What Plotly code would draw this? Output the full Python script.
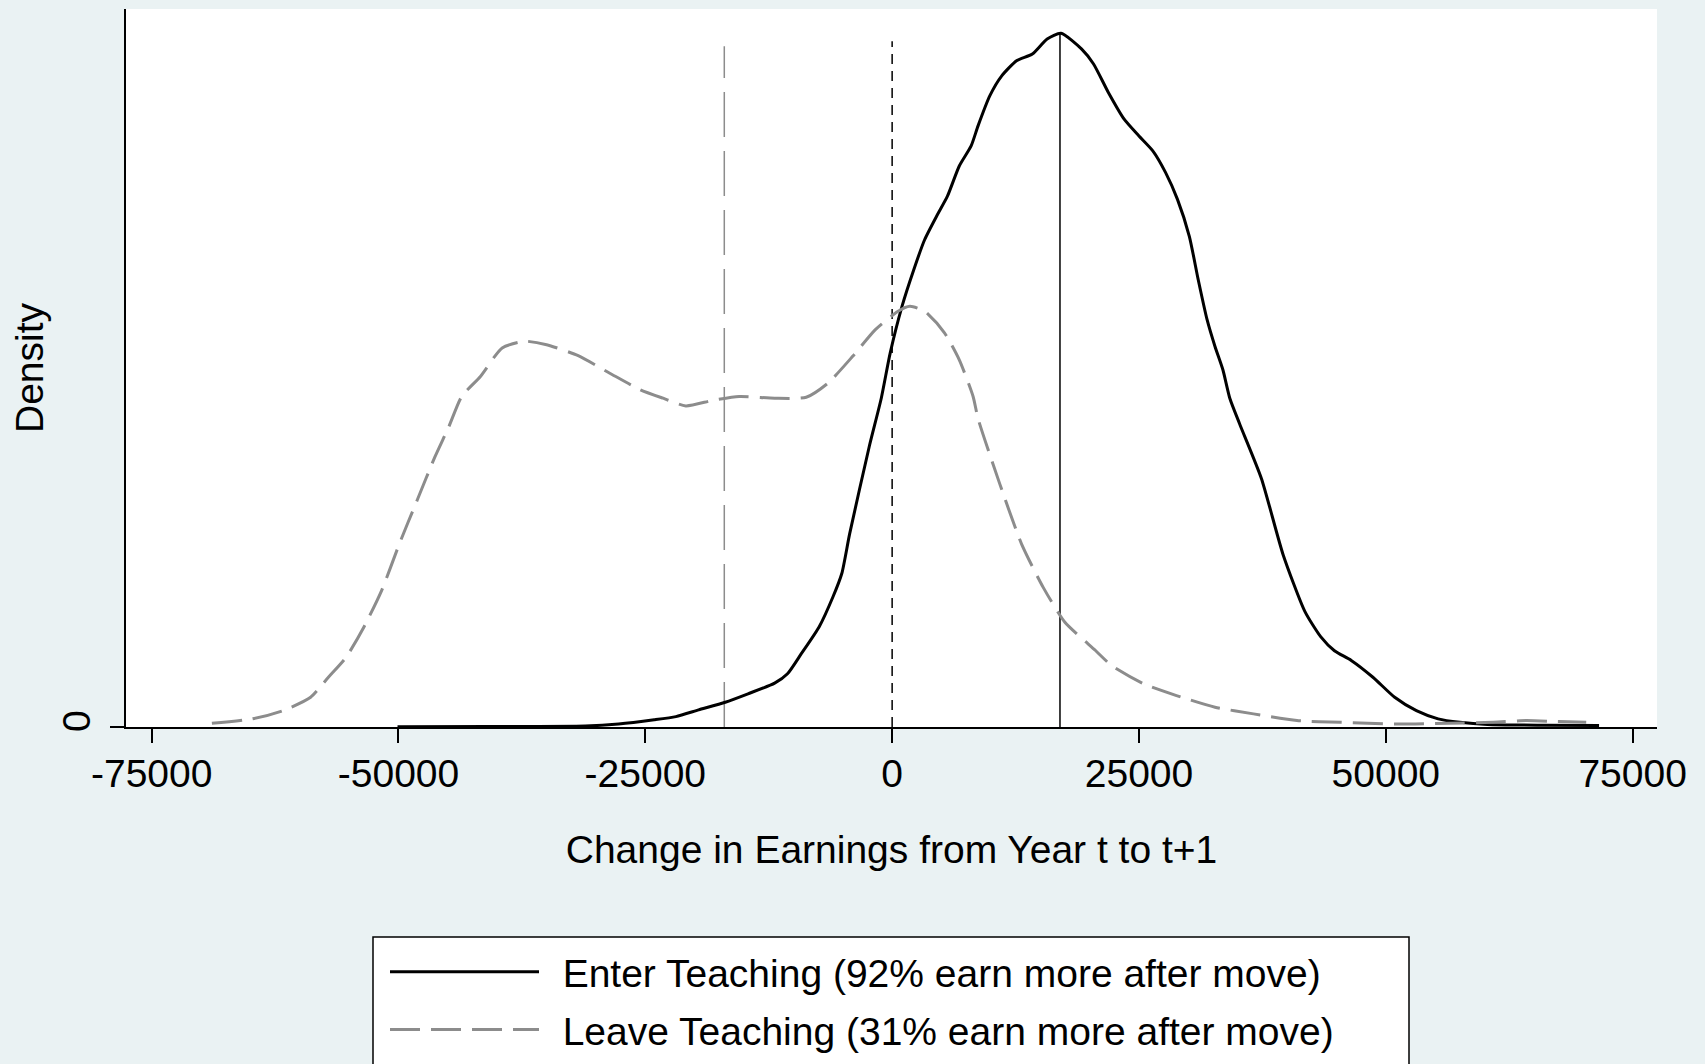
import plotly.graph_objects as go

# ---------------- data ----------------
enter_x = [-50100, -40800, -31100, -27700, -24100, -21900, -19600, -16900, -14600, -11900,
           -10600, -9200, -7400, -6000, -5100, -4300, -2300, -1100, -200, 1000,
           2200, 3300, 4500, 5600, 6800, 8000, 8700, 9900, 11100, 12600,
           14200, 15700, 17100, 19200, 20400, 21900, 23500, 25000, 26400, 27700,
           28900, 30100, 31000, 31900, 32700, 33500, 34200, 35200, 37400, 39600,
           41800, 43400, 44800, 46500, 48700, 50900, 53100, 55300, 57500, 60300,
           66000, 71600]
enter_density = [0.001e-5, 0.002e-5, 0.004e-5, 0.012e-5, 0.029e-5, 0.042e-5, 0.069e-5, 0.100e-5, 0.134e-5, 0.177e-5,
                 0.215e-5, 0.296e-5, 0.404e-5, 0.525e-5, 0.620e-5, 0.781e-5, 1.136e-5, 1.328e-5, 1.510e-5, 1.699e-5,
                 1.848e-5, 1.969e-5, 2.063e-5, 2.144e-5, 2.266e-5, 2.347e-5, 2.428e-5, 2.550e-5, 2.630e-5, 2.691e-5,
                 2.718e-5, 2.779e-5, 2.802e-5, 2.738e-5, 2.678e-5, 2.563e-5, 2.455e-5, 2.387e-5, 2.327e-5, 2.239e-5,
                 2.131e-5, 1.982e-5, 1.807e-5, 1.645e-5, 1.537e-5, 1.443e-5, 1.328e-5, 1.224e-5, 1.004e-5, 0.696e-5,
                 0.467e-5, 0.365e-5, 0.308e-5, 0.269e-5, 0.201e-5, 0.120e-5, 0.066e-5, 0.033e-5, 0.019e-5, 0.010e-5,
                 0.007e-5, 0.006e-5]

leave_x = [-68900, -64800, -61700, -58900, -57100, -55300, -53500, -51700, -49900, -48100,
           -46300, -44900, -43600, -41700, -39500, -37200, -35000, -31800, -28600, -25500,
           -23200, -20900, -18200, -15500, -11900, -8700, -6500, -4000, -1700, 600,
           1800, 3300, 5300, 6800, 8200, 8700, 10900, 13100, 15300, 17500,
           20600, 22200, 25500, 28800, 32700, 36600, 41000, 45400, 50900, 56400,
           60900, 64200, 67500, 70300]
leave_density = [0.015e-5, 0.033e-5, 0.066e-5, 0.120e-5, 0.201e-5, 0.282e-5, 0.404e-5, 0.552e-5, 0.741e-5, 0.917e-5,
                 1.092e-5, 1.213e-5, 1.335e-5, 1.416e-5, 1.531e-5, 1.558e-5, 1.544e-5, 1.500e-5, 1.429e-5, 1.362e-5,
                 1.328e-5, 1.297e-5, 1.319e-5, 1.335e-5, 1.328e-5, 1.332e-5, 1.389e-5, 1.497e-5, 1.605e-5, 1.679e-5,
                 1.699e-5, 1.679e-5, 1.592e-5, 1.483e-5, 1.335e-5, 1.246e-5, 0.982e-5, 0.740e-5, 0.564e-5, 0.423e-5,
                 0.309e-5, 0.249e-5, 0.174e-5, 0.127e-5, 0.080e-5, 0.053e-5, 0.026e-5, 0.019e-5, 0.012e-5, 0.015e-5,
                 0.019e-5, 0.026e-5, 0.022e-5, 0.019e-5]

# reference lines: position and height
leave_mean = -17000
leave_mean_top = 2.75e-5
zero_line = 0
zero_line_top = 2.77e-5
enter_mean = 17000
enter_mean_top = 2.80e-5

x_tick_vals = [-75000, -50000, -25000, 0, 25000, 50000, 75000]
x_tick_labels = ["-75000", "-50000", "-25000", "0", "25000", "50000", "75000"]

enter_name = "Enter Teaching (92% earn more after move)"
leave_name = "Leave Teaching (31% earn more after move)"
x_title = "Change in Earnings from Year t to t+1"
y_title = "Density"

# ---------------- styling ----------------
FONT = "Liberation Sans, Arial, sans-serif"
BG = "#EAF2F3"
GRAY = "#8C8C8C"
PAD = "\u00a0\u2009"  # small visual gap between legend key and label

W, H = 1705, 1064
ML, MR, MT, MB = 126, 48, 9, 337

fig = go.Figure()

# vertical reference lines
fig.add_trace(go.Scatter(x=[leave_mean, leave_mean], y=[0, leave_mean_top], mode="lines",
                         line=dict(color=GRAY, width=1.5, dash="45px,14px"),
                         showlegend=False, hoverinfo="skip"))
fig.add_trace(go.Scatter(x=[zero_line, zero_line], y=[0, zero_line_top], mode="lines",
                         line=dict(color="black", width=1.5, dash="10px,7px"),
                         showlegend=False, hoverinfo="skip"))
fig.add_trace(go.Scatter(x=[enter_mean, enter_mean], y=[0, enter_mean_top], mode="lines",
                         line=dict(color="black", width=1.5),
                         showlegend=False, hoverinfo="skip"))

# density curves
fig.add_trace(go.Scatter(x=enter_x, y=enter_density, mode="lines", name=PAD + enter_name,
                         line=dict(color="black", width=3, shape="spline", smoothing=0.6),
                         legendgroup="a"))
fig.add_trace(go.Scatter(x=leave_x, y=leave_density, mode="lines", name=PAD + leave_name,
                         line=dict(color=GRAY, width=3, dash="30px,11px", shape="spline", smoothing=0.6),
                         legendgroup="b"))

plot_w = W - ML - MR
plot_h = H - MT - MB

# legend frame (extends below the picture edge as in the reference)
fig.add_shape(type="rect", xref="paper", yref="paper",
              x0=(373 - ML) / plot_w, x1=(1409 - ML) / plot_w,
              y0=(H - MB - 1080) / plot_h, y1=(H - MB - 937) / plot_h,
              line=dict(color="black", width=1.5), fillcolor="white", layer="below")

fig.update_layout(
    width=W, height=H,
    margin=dict(l=ML, r=MR, t=MT, b=MB, pad=0, autoexpand=False),
    paper_bgcolor=BG, plot_bgcolor="white",
    font=dict(family=FONT, size=39, color="black"),
    showlegend=True,
    legend=dict(x=(385 - ML) / plot_w, y=(H - MB - 940) / plot_h,
                xanchor="left", yanchor="top",
                bgcolor="rgba(0,0,0,0)", borderwidth=0,
                itemwidth=149, tracegroupgap=4,
                font=dict(family=FONT, size=39, color="black")),
    xaxis=dict(range=[-77600, 77470], tickvals=x_tick_vals, ticktext=x_tick_labels,
               automargin=False,
               showgrid=False, zeroline=False, showline=True, linecolor="black", linewidth=2,
               ticks="outside", ticklen=14, tickwidth=1.5, tickcolor="black",
               tickfont=dict(size=39), ticklabelstandoff=-3,
               title=dict(text=x_title, font=dict(size=39), standoff=42)),
    yaxis=dict(range=[0, 2.90e-5], tickvals=[0], ticktext=["0"], tickangle=-90,
               automargin=False,
               showgrid=False, zeroline=False, showline=True, linecolor="black", linewidth=2,
               ticks="outside", ticklen=14, tickwidth=1.5, tickcolor="black",
               tickfont=dict(size=39), ticklabelstandoff=4,
               title=dict(text=y_title, font=dict(size=39), standoff=0)),
)

# remove the browser's default page margin so the figure sits at the window's corner
fig.write_html("out.html",
               config={"displayModeBar": False},
               post_script="document.body.style.margin='0';document.body.style.overflow='hidden';"
                           "document.body.style.background='" + BG + "';")
